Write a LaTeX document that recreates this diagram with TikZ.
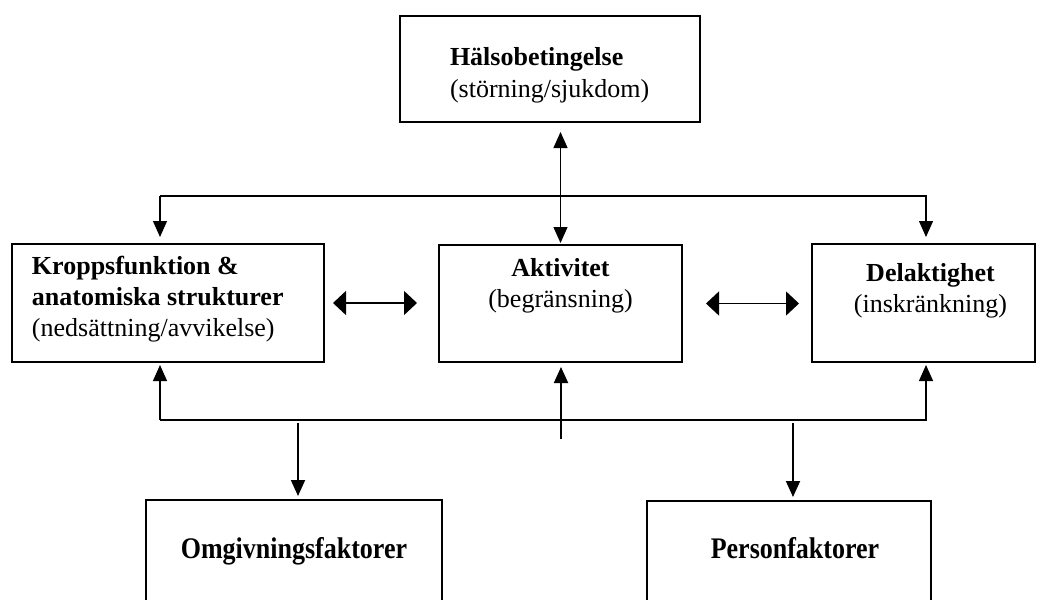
\documentclass[tikz,border=0pt]{standalone}
\usepackage{fontspec}
\setmainfont{Liberation Serif}
\usepackage{graphicx}
\usetikzlibrary{arrows.meta}

\newcommand{\boxtext}[4]{\parbox[c][#2][t]{#1}{\vspace*{#3}#4}}

\tikzset{
  box/.style={draw, line width=1.2pt, inner sep=0pt, outer sep=0pt},
  link/.style={-{Triangle[length=16pt,width=14pt]}, line width=1.2pt},
  twoway/.style={{Triangle[length=16pt,width=14pt]}-{Triangle[length=16pt,width=14pt]}, line width=1.2pt},
  sideway/.style={{Triangle[length=13pt,width=24pt]}-{Triangle[length=13pt,width=24pt]}, line width=1.2pt}
}

\begin{document}
\begin{tikzpicture}[x=1pt, y=-1pt, font=\fontsize{26}{31}\selectfont]
  \clip (0,0) rectangle (1040,599);
  % boxes
  \node[box] (halso) at (550,69) {\boxtext{300pt}{106pt}{31pt}{\leftskip=50pt \baselineskip=32pt
    \textbf{Hälsobetingelse}\\(störning/sjukdom)}};
  \node[box] (kropp) at (168,303) {\boxtext{312pt}{118pt}{12pt}{\leftskip=20pt
    \textbf{Kroppsfunktion \&}\\\textbf{anatomiska strukturer}\\(nedsättning/avvikelse)}};
  \node[box] (aktiv) at (560.5,303.5) {\boxtext{243pt}{117pt}{13pt}{\centering
    \textbf{Aktivitet}\\(begränsning)}};
  \node[box, line width=2.2pt] (delak) at (923.5,303) {\boxtext{223pt}{118pt}{19pt}{\centering\leftskip=14pt plus 1fil
    \textbf{Delaktighet}\\(inskränkning)}};
  \node[box, line width=1.8pt] (omgiv) at (294,570) {\boxtext{296pt}{140pt}{37pt}{\centering
    \textbf{\scalebox{1}[1.15]{Omgivningsfaktorer}}}};
  \node[box, line width=1.8pt] (person) at (789,571) {\boxtext{284pt}{140pt}{36pt}{\centering\leftskip=12pt plus 1fil
    \textbf{\scalebox{1}[1.15]{Personfaktorer}}}};

  % upper bus
  \coordinate (tl) at (160,196);
  \coordinate (tr) at (926,196);
  \draw[twoway, shorten <=10pt, shorten >=2pt] (aktiv.north |- halso.south) -- (aktiv.north);
  \draw[link] (tl) -- ([yshift=7pt]tl |- kropp.north);
  \draw[link] (tl) -- (tr) -- ([yshift=7pt]tr |- delak.north);

  % side arrows
  \draw[sideway, shorten <=9pt, shorten >=22pt] (kropp.east) -- (kropp.east -| aktiv.west);
  \draw[sideway, shorten <=24pt, shorten >=13pt] (aktiv.east) -- (aktiv.east -| delak.west);

  % lower bus
  \coordinate (bl) at (160,420);
  \coordinate (br) at (926,420);
  \coordinate (mb) at (561,439);
  \coordinate (ol) at (298,423);
  \coordinate (pr) at (793,423);
  \draw[link] (bl) -- ([yshift=-3pt]bl |- kropp.south);
  \draw[link] (bl) -- (br) -- ([yshift=-3pt]br |- delak.south);
  \draw[link, line width=1.8pt] (mb) -- ([yshift=-5pt]mb |- aktiv.south);
  \draw[link, line width=1.8pt] (ol) -- ([yshift=4pt]ol |- omgiv.north);
  \draw[link, line width=1.8pt] (pr) -- ([yshift=4pt]pr |- person.north);
\end{tikzpicture}
\end{document}
